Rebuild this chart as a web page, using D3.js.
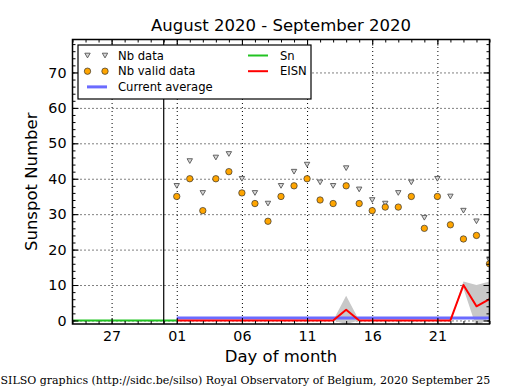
<!DOCTYPE html>
<html>
<head>
<meta charset="utf-8">
<script src="https://cdn.jsdelivr.net/npm/d3@7"></script>
<style>
  body { margin: 0; background: #fff; }
  svg { display: block; font-family: "DejaVu Sans", sans-serif; }
</style>
</head>
<body>
<div id="chart"></div>
<script>
// September 2020 days, with daily values
const septDays = [1, 2, 3, 4, 5, 6, 7, 8, 9, 10, 11, 12, 13, 14, 15, 16, 17, 18, 19, 20, 21, 22, 23, 24, 25];
const nbData = [38, 45, 36, 46, 47, 40, 36, 33, 38, 42, 44, 39, 38, 43, 37, 34, 33, 36, 39, 29, 40, 35, 31, 28, 17];
const nbValid = [35, 40, 31, 40, 42, 36, 33, 28, 35, 38, 40, 34, 33, 38, 33, 31, 32, 32, 35, 26, 35, 27, 23, 24, 16];
const eisn = [0, 0, 0, 0, 0, 0, 0, 0, 0, 0, 0, 0, 0, 3, 0, 0, 0, 0, 0, 0, 0, 0, 10, 4, 6];
const eisnErr = [0, 0, 0, 0, 0, 0, 0, 0, 0, 0, 0, 0, 0, 4, 0, 0, 0, 0, 0, 0, 0, 0, 1, 6, 5];
// late August Sn
const augDays = [23, 24, 25, 26, 27, 28, 29, 30, 31];
const snValues = [0, 0, 0, 0, 0, 0, 0, 0, 0];
const currentAverage = 0.7;

const xTickDays = [[7, 27], [8, 1], [8, 6], [8, 11], [8, 16], [8, 21]];
const yTicks = [0, 10, 20, 30, 40, 50, 60, 70];

const title = 'August 2020 - September 2020';
const footer = 'SILSO graphics (http://sidc.be/silso) Royal Observatory of Belgium, 2020 September 25';

const width = 515;
const height = 390;
const margin = { top: 39.5, right: 25.5, bottom: 66, left: 72.5 };
const plotW = width - margin.left - margin.right;
const plotH = height - margin.top - margin.bottom;

const sep = d => new Date(Date.UTC(2020, 8, d));
const aug = d => new Date(Date.UTC(2020, 7, d));

const x = d3.scaleUtc()
  .domain([aug(24), sep(25)])
  .range([0, plotW]);

const y = d3.scaleLinear()
  .domain([-1, 79.3])
  .range([plotH, 0]);

const svg = d3.select('#chart')
  .append('svg')
  .attr('width', width)
  .attr('height', height);

const g = svg.append('g')
  .attr('transform', `translate(${margin.left}, ${margin.top})`);

g.append('clipPath')
  .attr('id', 'plotClip')
  .append('rect')
  .attr('width', plotW)
  .attr('height', plotH);

const xMajor = xTickDays.map(d => new Date(Date.UTC(2020, d[0], d[1])));
const xMinor = d3.utcDay.range(aug(24), sep(26));
const yMinor = d3.range(0, 80, 2);

// grid
g.append('g')
  .attr('class', 'grid')
  .attr('transform', `translate(0, ${plotH})`)
  .call(d3.axisBottom(x).tickValues(xMajor).tickSize(-plotH).tickFormat(''))
  .call(s => s.select('.domain').remove());
g.append('g')
  .attr('class', 'grid')
  .call(d3.axisLeft(y).tickValues(yTicks).tickSize(-plotW).tickFormat(''))
  .call(s => s.select('.domain').remove());
g.selectAll('.grid line')
  .attr('stroke', '#000')
  .attr('stroke-width', 1)
  .attr('stroke-dasharray', '1,3');

const plot = g.append('g').attr('clip-path', 'url(#plotClip)');

const septRows = septDays.map((d, i) => ({
  date: sep(d), nb: nbData[i], valid: nbValid[i], eisn: eisn[i], err: eisnErr[i],
}));

// EISN error band
plot.append('path')
  .datum(septRows)
  .attr('fill', '#c8c8c8')
  .attr('d', d3.area()
    .x(d => x(d.date))
    .y0(d => y(d.eisn - d.err))
    .y1(d => y(d.eisn + d.err)));

// current average
plot.append('path')
  .datum([sep(1), sep(30)])
  .attr('fill', 'none')
  .attr('stroke', '#6b6bff')
  .attr('stroke-width', 3)
  .attr('d', d3.line().x(d => x(d)).y(() => y(currentAverage)));

// Sn
const snRows = augDays.map((d, i) => ({ date: aug(d), v: snValues[i] }));
snRows.push({ date: sep(1), v: 0 });
plot.append('path')
  .datum(snRows)
  .attr('fill', 'none')
  .attr('stroke', '#22c322')
  .attr('stroke-width', 2)
  .attr('d', d3.line().x(d => x(d.date)).y(d => y(d.v)));

// EISN
plot.append('path')
  .datum(septRows)
  .attr('fill', 'none')
  .attr('stroke', '#ff0000')
  .attr('stroke-width', 2)
  .attr('stroke-linejoin', 'round')
  .attr('d', d3.line().x(d => x(d.date)).y(d => y(d.eisn)));

// month boundary
plot.append('line')
  .attr('x1', x(aug(31)))
  .attr('x2', x(aug(31)))
  .attr('y1', 0)
  .attr('y2', plotH)
  .attr('stroke', '#000')
  .attr('stroke-width', 1.2);

const triangle = 'M-2.7,-2.3L2.7,-2.3L0,2.4Z';

plot.append('g')
  .selectAll('path')
  .data(septRows)
  .enter()
  .append('path')
  .attr('transform', d => `translate(${x(d.date)}, ${y(d.nb)})`)
  .attr('d', triangle)
  .attr('fill', '#d8d8d8')
  .attr('stroke', '#555')
  .attr('stroke-width', 0.9);

plot.append('g')
  .selectAll('circle')
  .data(septRows)
  .enter()
  .append('circle')
  .attr('cx', d => x(d.date))
  .attr('cy', d => y(d.valid))
  .attr('r', 3.2)
  .attr('fill', '#ffa500')
  .attr('stroke', '#333')
  .attr('stroke-width', 0.7);

// axes with inward ticks
function styleAxis(sel) {
  sel.select('.domain').remove();
  sel.selectAll('line').attr('stroke', '#000').attr('stroke-width', 1);
  sel.selectAll('text')
    .attr('fill', '#000')
    .style('font-family', '"DejaVu Sans", sans-serif')
    .style('font-size', '14.3px');
}

g.append('g')
  .attr('transform', `translate(0, ${plotH})`)
  .call(d3.axisBottom(x).tickValues(xMajor).tickSize(-6).tickPadding(7)
    .tickFormat(d3.utcFormat('%d')))
  .call(styleAxis);
g.append('g')
  .attr('transform', `translate(0, ${plotH})`)
  .call(d3.axisBottom(x).tickValues(xMinor).tickSize(-3).tickFormat(''))
  .call(styleAxis);
g.append('g')
  .call(d3.axisTop(x).tickValues(xMajor).tickSize(-6).tickFormat(''))
  .call(styleAxis);
g.append('g')
  .call(d3.axisTop(x).tickValues(xMinor).tickSize(-3).tickFormat(''))
  .call(styleAxis);

g.append('g')
  .call(d3.axisLeft(y).tickValues(yTicks).tickSize(-6).tickPadding(6))
  .call(styleAxis);
g.append('g')
  .call(d3.axisLeft(y).tickValues(yMinor).tickSize(-3).tickFormat(''))
  .call(styleAxis);
g.append('g')
  .attr('transform', `translate(${plotW}, 0)`)
  .call(d3.axisRight(y).tickValues(yTicks).tickSize(-6).tickFormat(''))
  .call(styleAxis);
g.append('g')
  .attr('transform', `translate(${plotW}, 0)`)
  .call(d3.axisRight(y).tickValues(yMinor).tickSize(-3).tickFormat(''))
  .call(styleAxis);

// frame
g.append('rect')
  .attr('width', plotW)
  .attr('height', plotH)
  .attr('fill', 'none')
  .attr('stroke', '#000')
  .attr('stroke-width', 1.5);

// titles
svg.append('text')
  .attr('x', margin.left + plotW / 2)
  .attr('y', 31)
  .attr('text-anchor', 'middle')
  .style('font-size', '16.5px')
  .text(title);

svg.append('text')
  .attr('transform', `translate(37, ${margin.top + plotH / 2}) rotate(-90)`)
  .attr('text-anchor', 'middle')
  .style('font-size', '16.5px')
  .text('Sunspot Number');

svg.append('text')
  .attr('x', margin.left + plotW / 2)
  .attr('y', 362)
  .attr('text-anchor', 'middle')
  .style('font-size', '16.5px')
  .text('Day of month');

svg.append('text')
  .attr('x', 0.5)
  .attr('y', 384)
  .style('font-family', '"DejaVu Serif", serif')
  .style('font-size', '11px')
  .text(footer);

// legend
const legend = svg.append('g').attr('transform', 'translate(78, 45)');
legend.append('rect')
  .attr('width', 233)
  .attr('height', 54)
  .attr('fill', '#fff')
  .attr('stroke', '#000')
  .attr('stroke-width', 1.2);

const legendItems = [
  { label: 'Nb data', kind: 'tri', col: 0, row: 0 },
  { label: 'Nb valid data', kind: 'dot', col: 0, row: 1 },
  { label: 'Current average', kind: 'line', color: '#6b6bff', width: 3, col: 0, row: 2 },
  { label: 'Sn', kind: 'line', color: '#22c322', width: 2, col: 1, row: 0 },
  { label: 'EISN', kind: 'line', color: '#ff0000', width: 2, col: 1, row: 1 },
];

const item = legend.selectAll('.item')
  .data(legendItems)
  .enter()
  .append('g')
  .attr('class', 'item')
  .attr('transform', d => `translate(${d.col === 0 ? 9 : 170}, ${10.5 + d.row * 15.7})`);

item.each(function (d) {
  const el = d3.select(this);
  if (d.kind === 'tri') {
    [0.5, 18].forEach(px => el.append('path')
      .attr('transform', `translate(${px}, 0)`)
      .attr('d', triangle)
      .attr('fill', '#d8d8d8')
      .attr('stroke', '#555')
      .attr('stroke-width', 0.9));
  } else if (d.kind === 'dot') {
    [0.5, 18].forEach(px => el.append('circle')
      .attr('cx', px)
      .attr('r', 3.2)
      .attr('fill', '#ffa500')
      .attr('stroke', '#333')
      .attr('stroke-width', 0.7));
  } else {
    el.append('line')
      .attr('x1', 0)
      .attr('x2', 20)
      .attr('stroke', d.color)
      .attr('stroke-width', d.width);
  }
  el.append('text')
    .attr('x', d.col === 0 ? 31 : 32)
    .attr('dy', '0.35em')
    .style('font-size', '11.6px')
    .text(d.label);
});
</script>
</body>
</html>
